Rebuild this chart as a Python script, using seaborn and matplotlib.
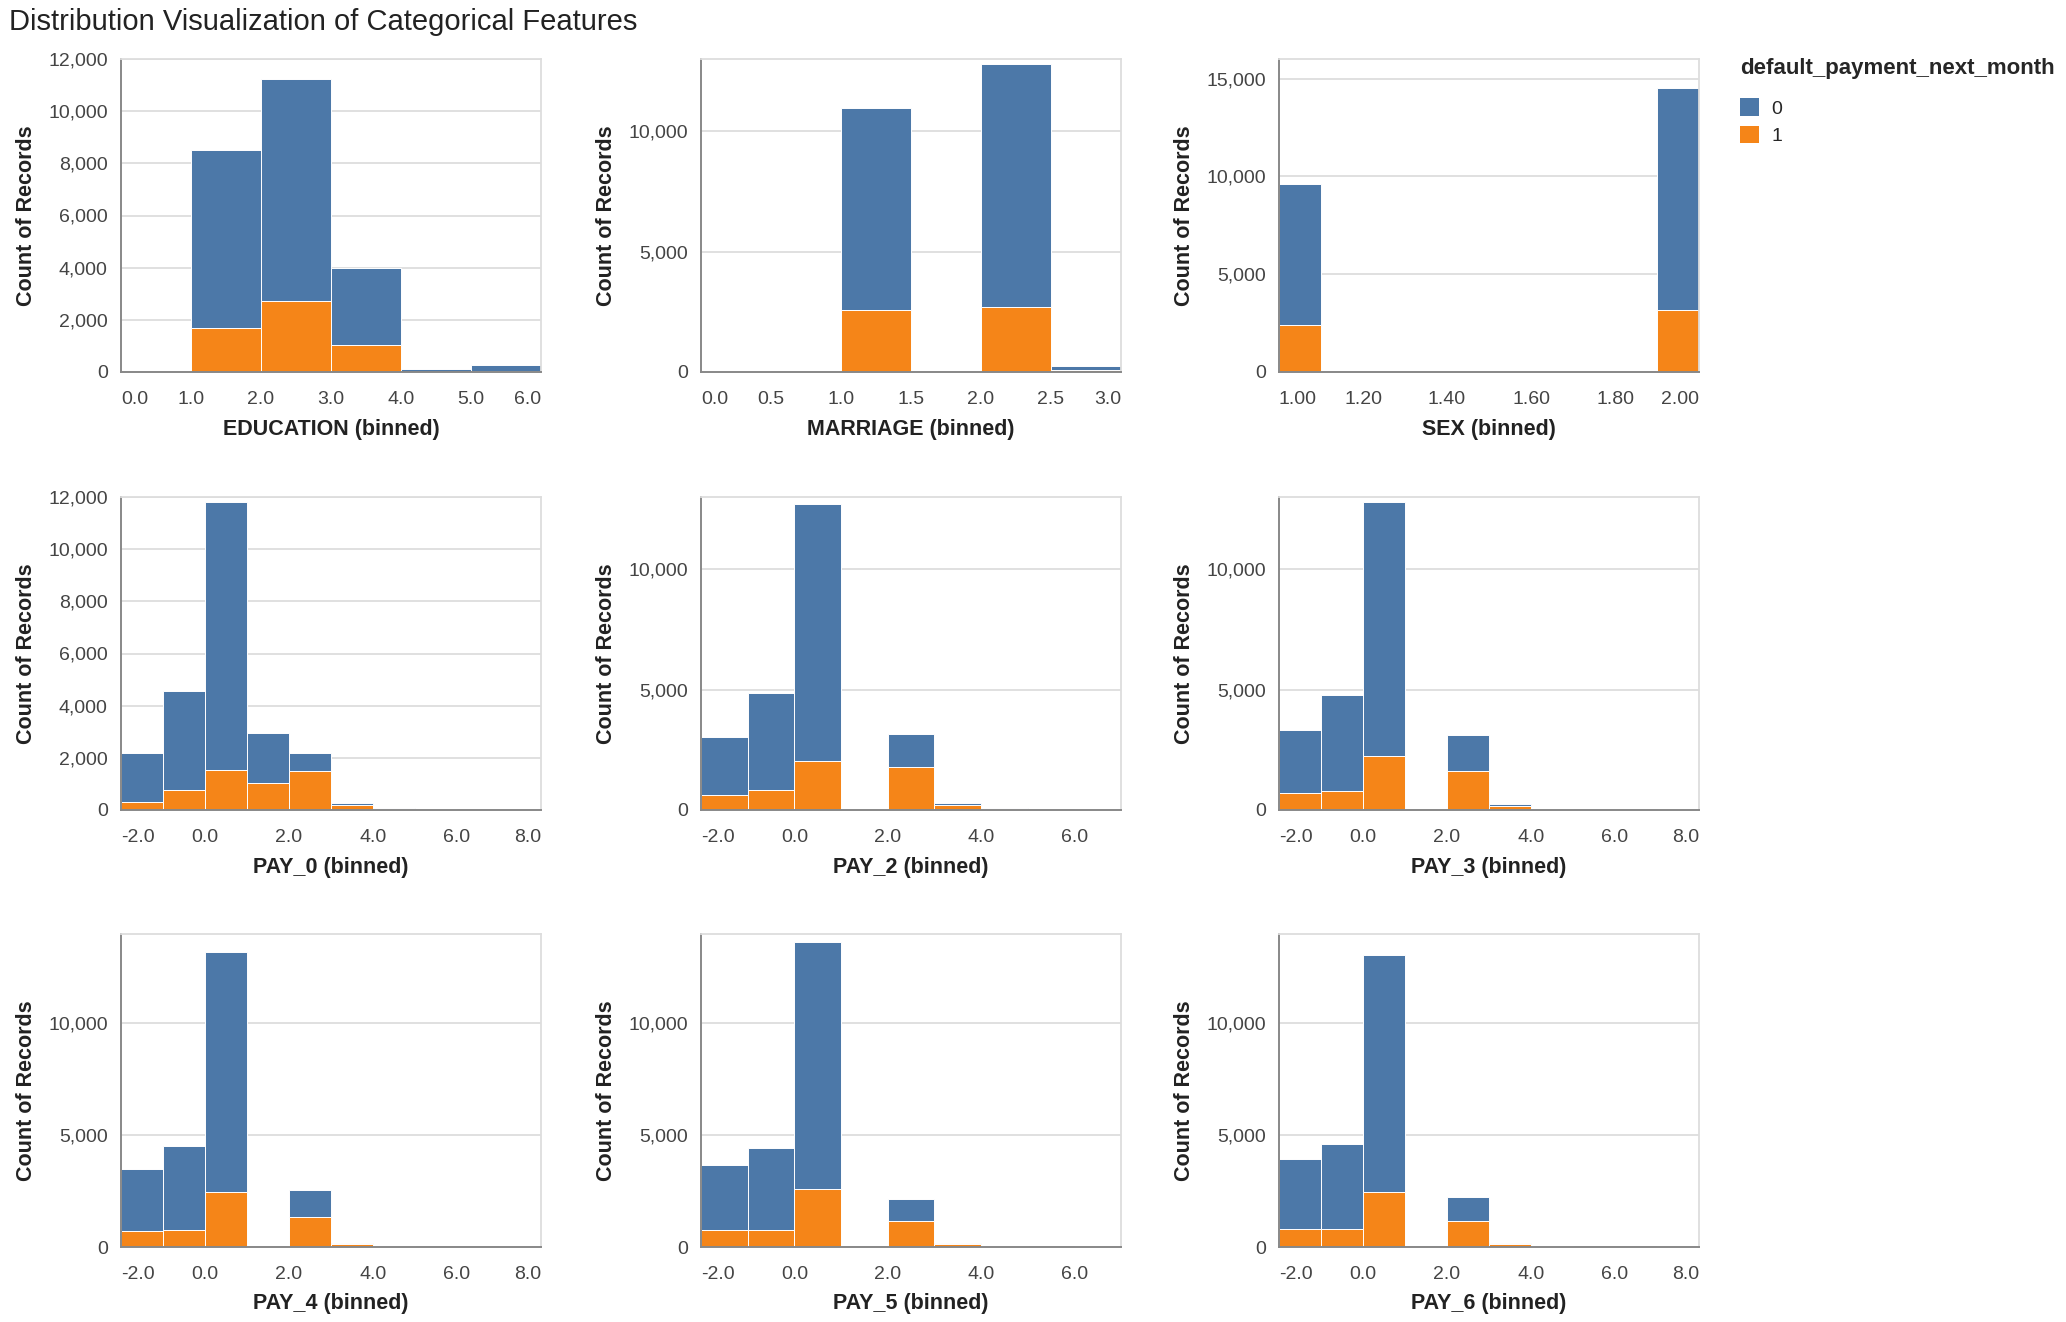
import numpy as np
import pandas as pd
import matplotlib
matplotlib.use("Agg")
import matplotlib.pyplot as plt
import seaborn as sns
from matplotlib.patches import Patch
from matplotlib.ticker import FuncFormatter

# counts per bin, split by default_payment_next_month (0 = no default, 1 = default)
edu_edges = [0, 1, 2, 3, 4, 5, 6]
edu_0 = [10, 6800, 8530, 2930, 94, 250]
edu_1 = [2, 1700, 2720, 1050, 6, 20]

mar_edges = [0.0, 0.5, 1.0, 1.5, 2.0, 2.5, 3.0]
mar_0 = [41, 0, 8410, 0, 10070, 190]
mar_1 = [4, 0, 2570, 0, 2720, 70]

sex_edges = [1.0, 1.1, 1.2, 1.3, 1.4, 1.5, 1.6, 1.7, 1.8, 1.9, 2.0]
sex_0 = [7200, 0, 0, 0, 0, 0, 0, 0, 0, 11350]
sex_1 = [2400, 0, 0, 0, 0, 0, 0, 0, 0, 3150]

pay_edges_8 = [-2, -1, 0, 1, 2, 3, 4, 5, 6, 7, 8]
pay_edges_7 = [-2, -1, 0, 1, 2, 3, 4, 5, 6, 7]

pay0_0 = [1900, 3790, 10260, 1940, 690, 70, 20, 10, 6, 10]
pay0_1 = [300, 780, 1540, 1020, 1480, 200, 40, 10, 4, 12]

pay2_0 = [2410, 4070, 10670, 17, 1400, 90, 40, 10, 13]
pay2_1 = [640, 810, 2050, 8, 1770, 190, 40, 10, 12]

pay3_0 = [2630, 4000, 10530, 15, 1470, 80, 25, 10, 12, 15]
pay3_1 = [690, 790, 2250, 5, 1630, 170, 35, 10, 8, 15]

pay4_0 = [2780, 3790, 10740, 1, 1220, 70, 20, 10, 5, 10]
pay4_1 = [710, 740, 2450, 1, 1350, 120, 30, 10, 5, 30]

pay5_0 = [2910, 3690, 11040, 0, 970, 70, 25, 10, 8]
pay5_1 = [740, 740, 2600, 0, 1160, 120, 35, 10, 22]

pay6_0 = [3150, 3820, 10600, 0, 1090, 40, 20, 10, 7, 12]
pay6_1 = [790, 790, 2480, 0, 1160, 150, 30, 10, 8, 28]

panels = [
    ("EDUCATION", edu_edges, edu_0, edu_1, 12000, 2000),
    ("MARRIAGE", mar_edges, mar_0, mar_1, 13000, 5000),
    ("SEX", sex_edges, sex_0, sex_1, 16000, 5000),
    ("PAY_0", pay_edges_8, pay0_0, pay0_1, 12000, 2000),
    ("PAY_2", pay_edges_7, pay2_0, pay2_1, 13000, 5000),
    ("PAY_3", pay_edges_8, pay3_0, pay3_1, 13000, 5000),
    ("PAY_4", pay_edges_8, pay4_0, pay4_1, 14000, 5000),
    ("PAY_5", pay_edges_7, pay5_0, pay5_1, 14000, 5000),
    ("PAY_6", pay_edges_8, pay6_0, pay6_1, 14000, 5000),
]

BLUE = "#4c78a8"
ORANGE = "#f58518"

sns.set_style("white")
plt.rcParams["font.family"] = ["Liberation Sans", "DejaVu Sans"]

W, H = 2066, 1322
fig = plt.figure(figsize=(W / 100, H / 100), dpi=100)

col_left = [121, 701, 1279]
col_w = 420
row_top = [59, 497, 934]
row_h = 313


def tick_labels(name, edges):
    # which tick marks get a label
    if name == "SEX":
        return ["%.2f" % e if round(e * 10) % 2 == 0 else "" for e in edges]
    if name.startswith("PAY"):
        return ["%.1f" % e if e % 2 == 0 else "" for e in edges]
    return ["%.1f" % e for e in edges]


for i, (name, edges, c0, c1, ymax, ystep) in enumerate(panels):
    r, c = divmod(i, 3)
    ax = fig.add_axes([col_left[c] / W, 1 - (row_top[r] + row_h) / H, col_w / W, row_h / H])

    centers = [(a + b) / 2 for a, b in zip(edges[:-1], edges[1:])]
    df = pd.DataFrame({
        "x": centers + centers,
        "count": list(c0) + list(c1),
        "default": [0] * len(c0) + [1] * len(c1),
    })
    # first hue level ends up on top of the stack
    sns.histplot(data=df, x="x", weights="count", hue="default", bins=edges,
                 multiple="stack", hue_order=[0, 1],
                 palette={0: BLUE, 1: ORANGE}, alpha=1, edgecolor="white",
                 linewidth=0.7, legend=False, ax=ax)

    ax.set_xlim(edges[0], edges[-1])
    ax.set_ylim(0, ymax)
    ax.set_yticks(np.arange(0, ymax + 1, ystep))
    ax.yaxis.set_major_formatter(FuncFormatter(lambda v, p: "{:,.0f}".format(v)))
    ax.set_xticks(edges)
    labs = ax.set_xticklabels(tick_labels(name, edges))
    labs[0].set_ha("left")
    labs[-1].set_ha("right")

    ax.grid(False)
    ax.yaxis.grid(True, color="#dddddd", linewidth=1.3)
    ax.set_axisbelow(True)
    for s in ["top", "right"]:
        ax.spines[s].set_color("#dddddd")
        ax.spines[s].set_linewidth(1.3)
    for s in ["left", "bottom"]:
        ax.spines[s].set_color("#888888")
        ax.spines[s].set_linewidth(1.4)
    ax.tick_params(axis="both", direction="out", length=7.5, width=1.4,
                   color="#888888", labelsize=14, labelcolor="#444444")
    ax.tick_params(axis="x", pad=6)
    ax.tick_params(axis="y", pad=2)

    ax.set_xlabel(name + " (binned)", fontsize=15.5, fontweight="bold", color="#222222")
    ax.set_ylabel("Count of Records", fontsize=15.5, fontweight="bold", color="#222222")
    ax.xaxis.set_label_coords(0.5, -57 / row_h)
    ax.xaxis.label.set_va("center")
    ax.yaxis.set_label_coords(-94 / col_w, 0.5)
    ax.yaxis.label.set_va("center")

fig.text(9 / W, 1 - 22 / H, "Distribution Visualization of Categorical Features",
         fontsize=21, color="#222222", ha="left", va="center")

handles = [Patch(facecolor=BLUE, edgecolor="none"), Patch(facecolor=ORANGE, edgecolor="none")]
fig.legend(handles, ["0", "1"], title="default_payment_next_month",
           loc="upper left", bbox_to_anchor=(1740 / W, 1 - 58 / H),
           frameon=False, alignment="left", fontsize=14,
           title_fontproperties={"weight": "bold", "size": 16},
           handlelength=1.0, handleheight=1.0, handletextpad=0.6,
           labelspacing=0.42, borderpad=0, borderaxespad=0)
leg = fig.legends[0]
leg._legend_box.sep = 14

fig.savefig("out.png", dpi=100)
